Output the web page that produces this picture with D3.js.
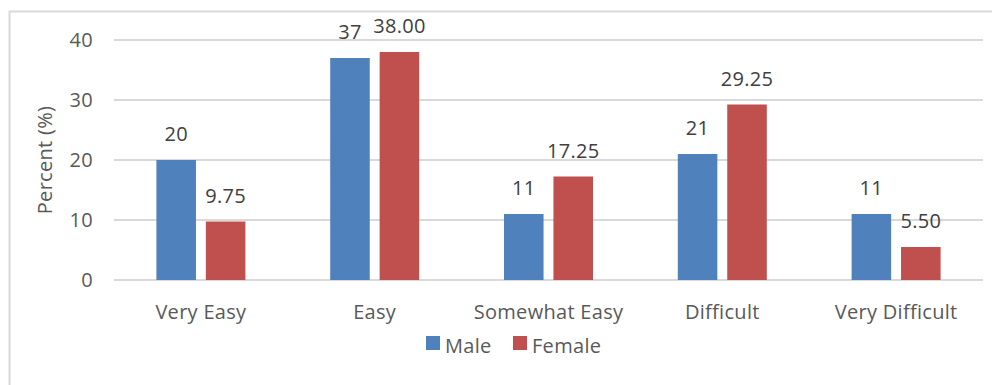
<!DOCTYPE html>
<html>
<head>
<meta charset="utf-8">
<script src="https://cdn.jsdelivr.net/npm/d3@7"></script>
<style>
  body { margin: 0; background: #fff; }
  svg { display: block; font-family: "Open Sans", sans-serif; }
  svg text { font-size: 20px; letter-spacing: 0.3px; }
</style>
</head>
<body>
<svg id="chart" width="992" height="385"></svg>
<script>
let categories = ['Very Easy', 'Easy', 'Somewhat Easy', 'Difficult', 'Very Difficult'];
let series = ['Male', 'Female'];
let maleValues = [20, 37, 11, 21, 11];
let femaleValues = [9.75, 38.00, 17.25, 29.25, 5.50];
let yTicks = [0, 10, 20, 30, 40];
let colors = ['#4f81bd', '#c0504d'];

let svg = d3.select('#chart');

// chart frame (cropped on right and bottom)
svg.append('path')
  .attr('d', 'M9.5,400 V11.5 H1000')
  .attr('fill', 'none')
  .attr('stroke', '#d9d9d9')
  .attr('stroke-width', 2);

let x = d3.scaleBand()
  .domain(categories)
  .range([114, 983]);

let mid = x.bandwidth() / 2;
let inner = d3.scaleBand()
  .domain(series)
  .range([mid - 44.5, mid + 44.5])
  .paddingInner(0.2);

let y = d3.scaleLinear()
  .domain([0, 40])
  .range([280, 40]);

// gridlines
svg.append('g')
  .selectAll('line')
  .data(yTicks)
  .join('line')
  .attr('x1', 114)
  .attr('x2', 983)
  .attr('y1', d => y(d))
  .attr('y2', d => y(d))
  .attr('stroke', '#d9d9d9')
  .attr('stroke-width', 2);

// y tick labels
svg.append('g')
  .selectAll('text')
  .data(yTicks)
  .join('text')
  .attr('x', 93)
  .attr('y', d => y(d))
  .attr('dy', '0.36em')
  .attr('text-anchor', 'end')
  .attr('fill', '#595959')
  .text(d => d);

svg.append('text')
  .attr('transform', 'translate(52,160) rotate(-90)')
  .attr('text-anchor', 'middle')
  .attr('fill', '#595959')
  .text('Percent (%)');

let rows = categories.map((c, i) => ({cat: c, vals: [maleValues[i], femaleValues[i]]}));

let groups = svg.append('g')
  .selectAll('g')
  .data(rows)
  .join('g')
  .attr('transform', d => `translate(${x(d.cat)},0)`);

groups.selectAll('rect')
  .data(d => d.vals.map((v, j) => ({s: series[j], v: v, j: j})))
  .join('rect')
  .attr('x', d => inner(d.s))
  .attr('width', inner.bandwidth())
  .attr('y', d => y(d.v))
  .attr('height', d => y(0) - y(d.v))
  .attr('fill', d => colors[d.j]);

groups.selectAll('text.lbl')
  .data(d => d.vals.map((v, j) => ({s: series[j], v: v, j: j})))
  .join('text')
  .attr('class', 'lbl')
  .attr('x', d => inner(d.s) + inner.bandwidth() / 2)
  .attr('y', d => y(d.v) - 19)
  .attr('text-anchor', 'middle')
  .attr('fill', '#404040')
  .text(d => d.j === 0 ? d3.format('d')(d.v) : d3.format('.2f')(d.v));

// category labels
svg.append('g')
  .selectAll('text')
  .data(categories)
  .join('text')
  .attr('x', d => x(d) + x.bandwidth() / 2)
  .attr('y', 319)
  .attr('text-anchor', 'middle')
  .attr('fill', '#595959')
  .text(d => d);

// legend
let legend = svg.append('g')
  .selectAll('g')
  .data(series)
  .join('g')
  .attr('transform', (d, i) => `translate(${[426, 513][i]},336)`);

legend.append('rect')
  .attr('width', 14)
  .attr('height', 14)
  .attr('fill', (d, i) => colors[i]);

legend.append('text')
  .attr('x', 19)
  .attr('y', 17)
  .attr('fill', '#595959')
  .text(d => d);
</script>
</body>
</html>
